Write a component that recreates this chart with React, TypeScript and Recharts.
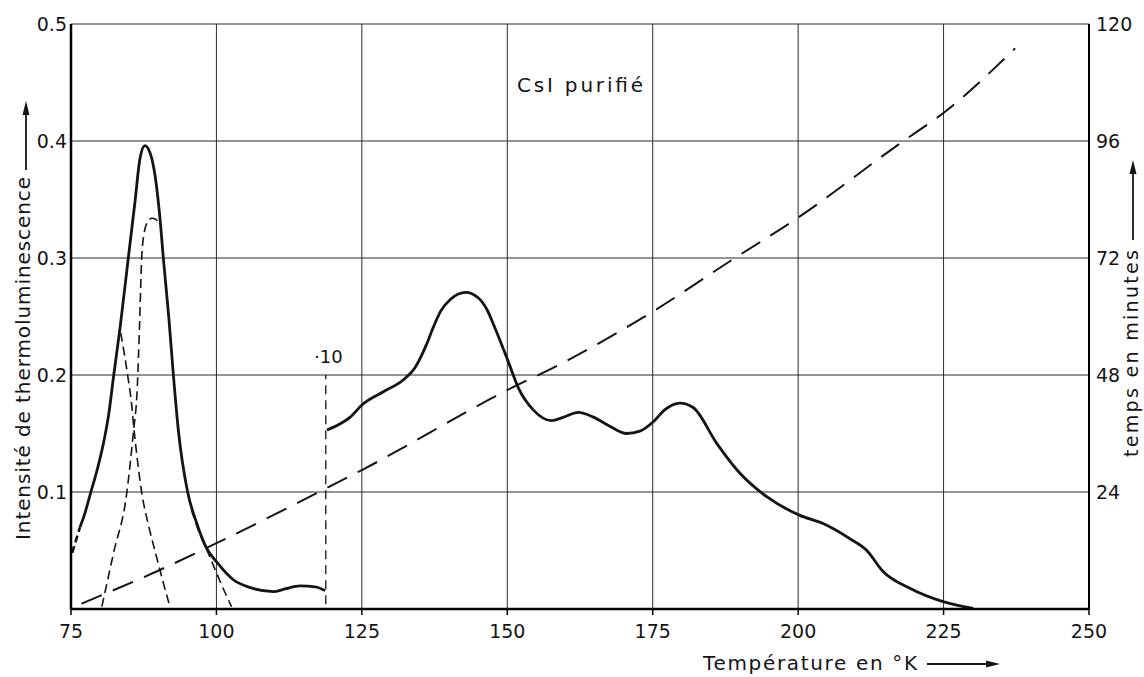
import React from 'react';
import { LineChart, Line, XAxis, YAxis, CartesianGrid } from 'recharts';

type Pt = [number, number];

// Axis ticks
const temperatureTicks = [75, 100, 125, 150, 175, 200, 225, 250];
const intensityTicks = [0.1, 0.2, 0.3, 0.4, 0.5];
const minuteTicks = [24, 48, 72, 96, 120];

// Thermoluminescence glow curve (temperature K, intensity)
const glowStartDashed: Pt[] = [
  [75.2, 0.048], [76.55, 0.07],
];
const glowLow: Pt[] = [
  [76.55, 0.07], [77.4, 0.082], [78.4, 0.0997], [79.5, 0.119], [80.55, 0.141],
  [81.5, 0.167], [82.27, 0.197], [83.5, 0.243], [84.85, 0.3], [86.0, 0.348],
  [86.86, 0.385], [87.7, 0.396], [88.5, 0.391], [89.3, 0.375], [89.9, 0.353],
  [90.4, 0.328], [90.87, 0.3], [91.8, 0.25], [92.6, 0.2], [93.45, 0.153],
  [95.05, 0.1], [96.5, 0.075], [98.3, 0.052], [100, 0.0404], [102.9, 0.025],
  [106, 0.018], [109.8, 0.0148], [111.8, 0.0172], [114.4, 0.0197], [117, 0.019],
  [118.7, 0.0157],
];
// Glow curve after the x10 scale change
const glowHigh: Pt[] = [
  [119.0, 0.153], [120.8, 0.157], [123, 0.164], [125, 0.1744], [128.7, 0.1857],
  [132.1, 0.1957], [134.1, 0.206], [136.1, 0.226], [137.3, 0.241], [138.6, 0.255],
  [140.3, 0.265], [142.85, 0.2707], [145, 0.266], [146.5, 0.256], [147.9, 0.24],
  [150.2, 0.211], [151.9, 0.189], [154.5, 0.17], [157.6, 0.161], [159.6, 0.1638],
  [162.2, 0.168], [164.8, 0.164], [167.7, 0.156], [170.5, 0.15], [172.8, 0.152],
  [175.1, 0.16], [177, 0.17], [179.7, 0.176], [182, 0.172], [186, 0.1416],
  [190, 0.116], [194.6, 0.096], [200.3, 0.08], [204.3, 0.073], [208.9, 0.06],
  [211.8, 0.05], [214.6, 0.032], [219.2, 0.0177], [224.9, 0.0063], [230.1, 0.0006],
];

// Decomposed peaks (thin dashed)
const peakA: Pt[] = [
  [83.55, 0.236], [84.85, 0.196], [85.4, 0.176], [85.7, 0.16], [86.4, 0.128],
  [87.15, 0.0997], [88.4, 0.07], [89.7, 0.0447], [91.0, 0.02], [92.0, 0.002],
];
const peakBRise: Pt[] = [
  [80.3, 0.002], [82.3, 0.0476], [84.6, 0.0997], [85.7, 0.15], [86.4, 0.19],
  [86.8, 0.245], [87.15, 0.3], [87.6, 0.322], [88.2, 0.331], [88.9, 0.334],
  [89.6, 0.333], [90.2, 0.329],
];
const peakBTail: Pt[] = [
  [95.7, 0.085], [96.7, 0.07], [97.7, 0.058], [99, 0.043], [100.05, 0.0305],
  [101.3, 0.016], [102.6, 0.002],
];

// Scale change marker (x10)
const scaleBreak: Pt[] = [
  [118.8, 0.004], [118.8, 0.2],
];

// Heating time (temperature K, minutes)
const heatingTime: Pt[] = [
  [76.8, 1.1], [89.7, 7.7], [100, 13.5], [118.95, 24.8], [125, 28.5],
  [150, 44.9], [159.4, 50.4], [175, 61.0], [188.6, 71.6], [200, 80.3],
  [217.5, 95.5], [225.25, 102], [237.3, 115],
];

const rows = (pts: Pt[]) => pts.map(([t, v]) => ({ t, v }));

const FONT = 'DejaVu Sans';
const INK = '#141414';

export default function App() {
  return (
    <div style={{ position: 'absolute', left: 0, top: 0, width: 1144, height: 677, background: '#fff' }}>
      <LineChart width={1144} height={677} margin={{ top: 24, right: 0, bottom: 0, left: 0 }}>
        <CartesianGrid yAxisId="I" stroke="#2b2b2b" strokeWidth={1} />
        <XAxis
          dataKey="t"
          type="number"
          domain={[75, 250]}
          ticks={temperatureTicks}
          interval={0}
          height={68}
          tickSize={6}
          tickMargin={10}
          axisLine={{ stroke: '#000', strokeWidth: 2.5 }}
          tickLine={{ stroke: '#000', strokeWidth: 1.5 }}
          tick={{ fill: INK, fontSize: 19, fontFamily: FONT }}
        />
        <YAxis
          yAxisId="I"
          domain={[0, 0.5]}
          ticks={intensityTicks}
          interval={0}
          width={71}
          tickSize={0}
          tickMargin={4}
          axisLine={{ stroke: '#000', strokeWidth: 2.5 }}
          tickLine={false}
          tick={{ fill: INK, fontSize: 19, fontFamily: FONT }}
        />
        <YAxis
          yAxisId="M"
          orientation="right"
          domain={[0, 120]}
          ticks={minuteTicks}
          interval={0}
          width={55}
          tickSize={0}
          tickMargin={7}
          axisLine={{ stroke: '#000', strokeWidth: 2 }}
          tickLine={false}
          tick={{ fill: INK, fontSize: 19, fontFamily: FONT }}
        />
        <Line yAxisId="M" data={rows(heatingTime)} dataKey="v" type="monotone" stroke={INK}
          strokeWidth={2} strokeDasharray="22 12" dot={false} activeDot={false} isAnimationActive={false} />
        <Line yAxisId="I" data={rows(scaleBreak)} dataKey="v" type="linear" stroke={INK}
          strokeWidth={1.3} strokeDasharray="9 6" dot={false} activeDot={false} isAnimationActive={false} />
        <Line yAxisId="I" data={rows(peakA)} dataKey="v" type="monotone" stroke={INK}
          strokeWidth={1.6} strokeDasharray="9 5" dot={false} activeDot={false} isAnimationActive={false} />
        <Line yAxisId="I" data={rows(peakBRise)} dataKey="v" type="monotone" stroke={INK}
          strokeWidth={1.6} strokeDasharray="9 5" dot={false} activeDot={false} isAnimationActive={false} />
        <Line yAxisId="I" data={rows(peakBTail)} dataKey="v" type="monotone" stroke={INK}
          strokeWidth={1.6} strokeDasharray="9 5" dot={false} activeDot={false} isAnimationActive={false} />
        <Line yAxisId="I" data={rows(glowStartDashed)} dataKey="v" type="linear" stroke={INK}
          strokeWidth={2.6} strokeDasharray="7 4" dot={false} activeDot={false} isAnimationActive={false} />
        <Line yAxisId="I" data={rows(glowLow)} dataKey="v" type="monotone" stroke={INK}
          strokeWidth={2.8} dot={false} activeDot={false} isAnimationActive={false} />
        <Line yAxisId="I" data={rows(glowHigh)} dataKey="v" type="monotone" stroke={INK}
          strokeWidth={2.8} dot={false} activeDot={false} isAnimationActive={false} />
      </LineChart>
      <svg width={1144} height={677} style={{ position: 'absolute', left: 0, top: 0, pointerEvents: 'none' }}>
        <g fill={INK} fontFamily={FONT}>
          {/* left axis title */}
          <text transform="translate(30, 540) rotate(-90)" fontSize={20} textLength={363} lengthAdjust="spacing">
            Intensité de thermoluminescence
          </text>
          <line x1={26} y1={170} x2={26} y2={112} stroke={INK} strokeWidth={1.8} />
          <polygon points="26,101 22.5,115 29.5,115" />
          {/* right axis title */}
          <text transform="translate(1138, 457) rotate(-90)" fontSize={19} textLength={207} lengthAdjust="spacing">
            temps en minutes
          </text>
          <line x1={1133} y1={240} x2={1133} y2={172} stroke={INK} strokeWidth={1.8} />
          <polygon points="1133,160 1129.5,174 1136.5,174" />
          {/* x axis title */}
          <text x={703} y={670} fontSize={20} textLength={214} lengthAdjust="spacing">
            Température en °K
          </text>
          <line x1={927} y1={664} x2={988} y2={664} stroke={INK} strokeWidth={1.8} />
          <polygon points="1000,664 986,660.5 986,667.5" />
          {/* annotations */}
          <text x={517} y={92} fontSize={20} textLength={126} lengthAdjust="spacing">
            CsI purifié
          </text>
          <text x={314} y={363} fontSize={18}>
            ·10
          </text>
        </g>
      </svg>
    </div>
  );
}
